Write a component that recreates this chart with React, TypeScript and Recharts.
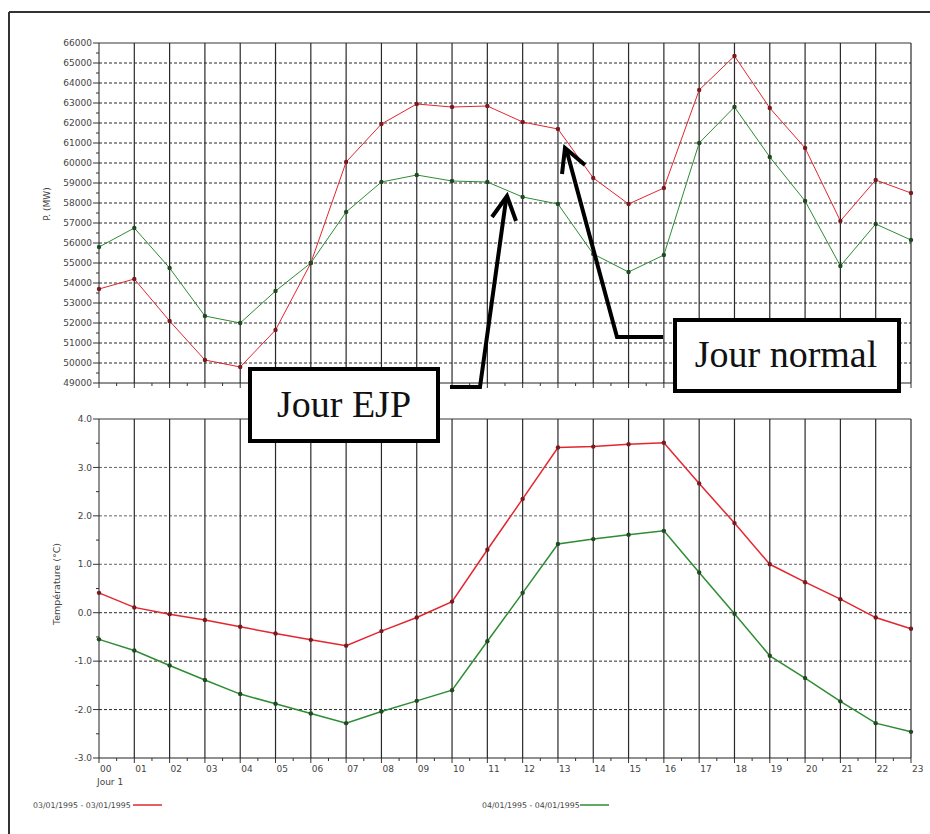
import React from "react";
import { Line, LineChart, ReferenceLine, XAxis, YAxis } from "recharts";

// heures de la journée (axe X)
const hours = [0, 1, 2, 3, 4, 5, 6, 7, 8, 9, 10, 11, 12, 13, 14, 15, 16, 17, 18, 19, 20, 21, 22, 23];
const hourLabels = ["00", "01", "02", "03", "04", "05", "06", "07", "08", "09", "10", "11", "12", "13", "14", "15", "16", "17", "18", "19", "20", "21", "22", "23"];

const seriesNames = ["03/01/1995 - 03/01/1995", "04/01/1995 - 04/01/1995"];

// puissance appelée (MW)
const powerDay1 = [53700, 54200, 52100, 50150, 49800, 51650, 55000, 60050, 61950, 62950, 62800, 62850, 62050, 61700, 59250, 57950, 58750, 63650, 65350, 62750, 60750, 57100, 59150, 58500];
const powerDay2 = [55800, 56750, 54750, 52350, 52000, 53600, 55000, 57550, 59050, 59400, 59100, 59050, 58300, 57950, 55450, 54550, 55400, 61000, 62800, 60300, 58100, 54850, 56950, 56150];

// température (°C)
const tempDay1 = [0.41, 0.11, -0.03, -0.15, -0.29, -0.43, -0.56, -0.68, -0.38, -0.1, 0.23, 1.3, 2.35, 3.41, 3.43, 3.48, 3.51, 2.67, 1.85, 1.0, 0.63, 0.28, -0.1, -0.33];
const tempDay2 = [-0.55, -0.78, -1.09, -1.39, -1.68, -1.88, -2.08, -2.28, -2.04, -1.82, -1.6, -0.59, 0.41, 1.42, 1.52, 1.61, 1.69, 0.83, -0.02, -0.89, -1.35, -1.83, -2.28, -2.46];

const powerTicks = [49000, 50000, 51000, 52000, 53000, 54000, 55000, 56000, 57000, 58000, 59000, 60000, 61000, 62000, 63000, 64000, 65000, 66000];
const tempTicks = [-3, -2, -1, 0, 1, 2, 3, 4];

const withHalves = (vals: number[]) =>
  vals.flatMap((v, i) => (i < vals.length - 1 ? [v, (v + vals[i + 1]) / 2] : [v]));

const RED = "#e3262f";
const GREEN = "#2e8c34";
const RED_DOT = "#7a1a1e";
const GREEN_DOT = "#1f4a22";
const GRID = "#2a2a2a";
const LABEL = "#444";
const SANS = "'DejaVu Sans', Arial, sans-serif";
const SERIF = "'Liberation Serif', 'Times New Roman', serif";

const powerData = hours.map((h, i) => ({ hour: h, day1: powerDay1[i], day2: powerDay2[i] }));
const tempData = hours.map((h, i) => ({ hour: h, day1: tempDay1[i], day2: tempDay2[i] }));

const YTick = (props: any) => {
  const { x, y, payload, majors, fmt } = props;
  const major = majors.includes(payload.value);
  return (
    <g>
      <line x1={x - (major ? 6 : 3)} x2={x} y1={y} y2={y} stroke="#333" />
      {major && (
        <text x={x - 7} y={y} dy={3.2} textAnchor="end" fontSize={9} fill={LABEL} fontFamily={SANS}>
          {fmt(payload.value)}
        </text>
      )}
    </g>
  );
};

const XTick = (props: any) => {
  const { x, y, payload, showLabels } = props;
  const v = payload.value;
  const major = Number.isInteger(v);
  return (
    <g>
      <line x1={x} x2={x} y1={y} y2={y + (major ? 5 : 3)} stroke="#333" />
      {showLabels && major && (
        <text x={x + 1} y={y + 14} fontSize={9} fill={LABEL} fontFamily={SANS}>
          {hourLabels[v]}
        </text>
      )}
      {showLabels && v === 0 && (
        <text x={x - 2} y={y + 27} fontSize={9} fill={LABEL} fontFamily={SANS}>
          Jour 1
        </text>
      )}
    </g>
  );
};

const hourGrid = () =>
  hours.slice(1).map((h) => (
    <ReferenceLine key={`vx-${h}`} x={h} stroke={GRID} strokeWidth={1.2} />
  ));

const App: React.FC = () => {
  return (
    <div
      style={{
        position: "absolute",
        left: 0,
        top: 0,
        width: 930,
        height: 834,
        background: "#fff",
        overflow: "hidden",
      }}
    >
      <div style={{ position: "absolute", left: 0, top: 0 }}>
        <LineChart width={930} height={400} data={powerData} margin={{ top: 43, right: 19, bottom: 0, left: 0 }}>
          <XAxis
            dataKey="hour"
            type="number"
            domain={[0, 23]}
            ticks={withHalves(hours)}
            interval={0}
            height={17}
            tickSize={0}
            tickMargin={0}
            tickLine={false}
            axisLine={{ stroke: "#222" }}
            tick={(p: any) => <XTick {...p} showLabels={false} />}
          />
          <YAxis
            type="number"
            domain={[49000, 66000]}
            ticks={withHalves(powerTicks)}
            interval={0}
            width={99}
            tickSize={0}
            tickMargin={0}
            tickLine={false}
            axisLine={{ stroke: "#222" }}
            tick={(p: any) => <YTick {...p} majors={powerTicks} fmt={(v: number) => String(v)} />}
          />
          {powerTicks.slice(1, -1).map((v) => (
            <ReferenceLine key={`py-${v}`} y={v} stroke={GRID} strokeDasharray="3 2" />
          ))}
          <ReferenceLine y={66000} stroke="#9a9a9a" strokeWidth={2} />
          {hourGrid()}
          <Line
            type="linear"
            dataKey="day1"
            name={seriesNames[0]}
            stroke={RED}
            strokeWidth={1}
            dot={{ r: 2.2, fill: RED_DOT, stroke: "none" }}
            isAnimationActive={false}
          />
          <Line
            type="linear"
            dataKey="day2"
            name={seriesNames[1]}
            stroke={GREEN}
            strokeWidth={1}
            dot={{ r: 2.2, fill: GREEN_DOT, stroke: "none" }}
            isAnimationActive={false}
          />
        </LineChart>
      </div>

      <div style={{ position: "absolute", left: 0, top: 400 }}>
        <LineChart width={930} height={434} data={tempData} margin={{ top: 19, right: 19, bottom: 36, left: 0 }}>
          <XAxis
            dataKey="hour"
            type="number"
            domain={[0, 23]}
            ticks={withHalves(hours)}
            interval={0}
            height={40}
            tickSize={0}
            tickMargin={0}
            tickLine={false}
            axisLine={{ stroke: "#222" }}
            tick={(p: any) => <XTick {...p} showLabels={true} />}
          />
          <YAxis
            type="number"
            domain={[-3, 4]}
            ticks={withHalves(tempTicks)}
            interval={0}
            width={99}
            tickSize={0}
            tickMargin={0}
            tickLine={false}
            axisLine={{ stroke: "#222" }}
            tick={(p: any) => <YTick {...p} majors={tempTicks} fmt={(v: number) => v.toFixed(1)} />}
          />
          {tempTicks.slice(1, -1).map((v) => (
            <ReferenceLine key={`ty-${v}`} y={v} stroke={v > 0 ? "#666" : GRID} strokeDasharray="3 2" />
          ))}
          <ReferenceLine y={4} stroke="#9a9a9a" strokeWidth={2} />
          {hourGrid()}
          <Line
            type="linear"
            dataKey="day1"
            name={seriesNames[0]}
            stroke={RED}
            strokeWidth={1.5}
            dot={{ r: 2.2, fill: RED_DOT, stroke: "none" }}
            isAnimationActive={false}
          />
          <Line
            type="linear"
            dataKey="day2"
            name={seriesNames[1]}
            stroke={GREEN}
            strokeWidth={1.5}
            dot={{ r: 2.2, fill: GREEN_DOT, stroke: "none" }}
            isAnimationActive={false}
          />
        </LineChart>
      </div>

      {/* cadre, titres d'axes, légende et annotations */}
      <svg
        width={930}
        height={834}
        style={{ position: "absolute", left: 0, top: 0, pointerEvents: "none" }}
      >
        <line x1={9} y1={12} x2={930} y2={12} stroke="#333" strokeWidth={2} />
        <line x1={9} y1={12} x2={9} y2={834} stroke="#333" strokeWidth={2} />

        <text
          transform="translate(50,204) rotate(-90)"
          textAnchor="middle"
          fontSize={9}
          fill={LABEL}
          fontFamily={SANS}
        >
          P. (MW)
        </text>
        <text
          transform="translate(60,584) rotate(-90)"
          textAnchor="middle"
          fontSize={9.5}
          fill={LABEL}
          fontFamily={SANS}
        >
          Température (°C)
        </text>

        <text x={33} y={808} fontSize={7.8} fill={LABEL} fontFamily={SANS}>
          {seriesNames[0]}
        </text>
        <line x1={133} y1={805} x2={162} y2={805} stroke={RED} strokeWidth={1.5} />
        <text x={482} y={808} fontSize={7.8} fill={LABEL} fontFamily={SANS}>
          {seriesNames[1]}
        </text>
        <line x1={580} y1={805} x2={609} y2={805} stroke={GREEN} strokeWidth={1.5} />

        <g stroke="#000" strokeWidth={4} fill="none" strokeLinejoin="miter">
          <polyline points="450,387 480,387 506,200" />
          <polyline points="492,217 507,196 516,221" />
          <polyline points="663,337 617,337 567,152" />
          <polyline points="562,174 565,148 585,165" />
        </g>

        <rect x={250} y={369} width={188} height={72} fill="#fff" stroke="#000" strokeWidth={4} />
        <text x={344} y={417} textAnchor="middle" fontSize={38} fill="#111" fontFamily={SERIF}>
          Jour EJP
        </text>
        <rect x={675} y={320} width={224} height={71} fill="#fff" stroke="#000" strokeWidth={4} />
        <text x={786} y={367} textAnchor="middle" fontSize={38} fill="#111" fontFamily={SERIF}>
          Jour normal
        </text>
      </svg>
    </div>
  );
};

export default App;
